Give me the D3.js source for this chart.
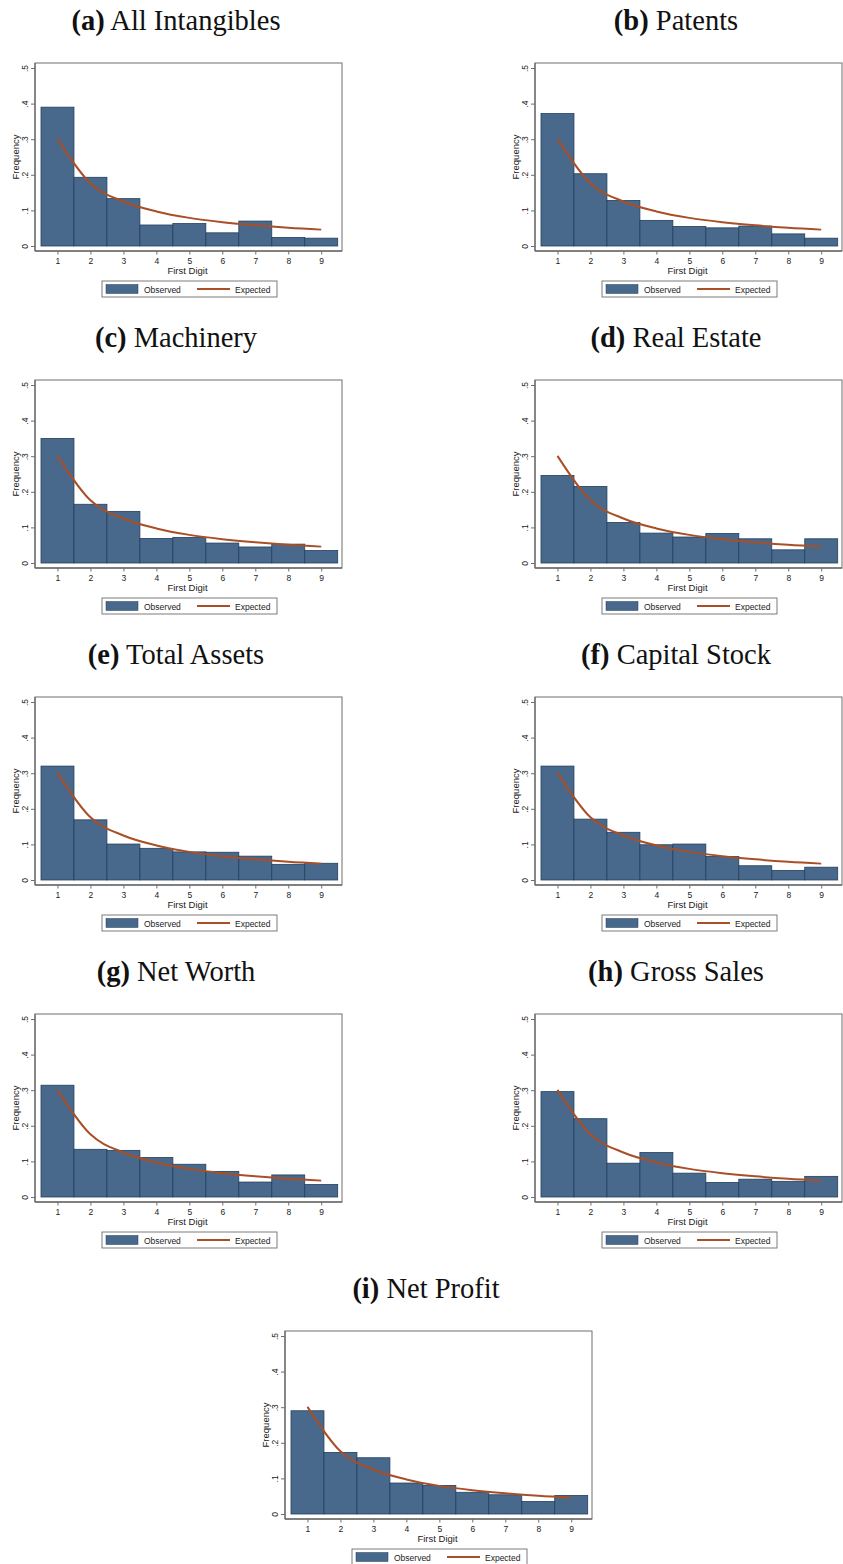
<!DOCTYPE html>
<html>
<head>
<meta charset="utf-8">
<script src="https://cdn.jsdelivr.net/npm/d3@7"></script>
<style>
  html, body { margin: 0; padding: 0; background: #fff; }
  svg { display: block; }
</style>
</head>
<body>
<svg id="chart" width="843" height="1564"></svg>
<script>
// ---------- data ----------
const digits = [1, 2, 3, 4, 5, 6, 7, 8, 9];
const yTicks = [0, 0.1, 0.2, 0.3, 0.4, 0.5];
const yTickLabels = ["0", ".1", ".2", ".3", ".4", ".5"];
const panelLetters = ["(a)", "(b)", "(c)", "(d)", "(e)", "(f)", "(g)", "(h)", "(i)"];
const panelNames = ["All Intangibles", "Patents", "Machinery", "Real Estate",
  "Total Assets", "Capital Stock", "Net Worth", "Gross Sales", "Net Profit"];
const expected = [0.301, 0.176, 0.125, 0.097, 0.079, 0.067, 0.058, 0.051, 0.046];
const obsAllIntangibles = [0.390, 0.193, 0.133, 0.059, 0.063, 0.037, 0.070, 0.024, 0.022];
const obsPatents        = [0.372, 0.203, 0.128, 0.072, 0.055, 0.051, 0.056, 0.034, 0.022];
const obsMachinery      = [0.350, 0.165, 0.145, 0.069, 0.072, 0.056, 0.045, 0.053, 0.035];
const obsRealEstate     = [0.246, 0.215, 0.114, 0.084, 0.073, 0.083, 0.068, 0.037, 0.068];
const obsTotalAssets    = [0.320, 0.169, 0.101, 0.089, 0.079, 0.078, 0.067, 0.044, 0.047];
const obsCapitalStock   = [0.320, 0.171, 0.134, 0.099, 0.101, 0.066, 0.040, 0.027, 0.036];
const obsNetWorth       = [0.314, 0.134, 0.131, 0.111, 0.092, 0.072, 0.042, 0.062, 0.035];
const obsGrossSales     = [0.296, 0.220, 0.095, 0.125, 0.067, 0.041, 0.050, 0.044, 0.058];
const obsNetProfit      = [0.290, 0.173, 0.158, 0.087, 0.080, 0.061, 0.054, 0.035, 0.052];
const observedSeries = [obsAllIntangibles, obsPatents, obsMachinery, obsRealEstate,
  obsTotalAssets, obsCapitalStock, obsNetWorth, obsGrossSales, obsNetProfit];

// ---------- layout ----------
const panelOrigins = [[0,0],[500,0],[0,317],[500,317],[0,634],[500,634],[0,951],[500,951],[250,1268]];
const BAR_FILL = "#48698c";
const BAR_STROKE = "#213f5e";
const LINE_COLOR = "#a94f27";
const FRAME = "#6e6e6e";
const SANS = "'Liberation Sans', Arial, sans-serif";
const SERIF = "'Liberation Serif', 'Times New Roman', serif";

const svg = d3.select("#chart");

panelOrigins.forEach((o, i) => {
  const [ox, oy] = o;
  const g = svg.append("g").attr("transform", `translate(${ox},${oy})`);

  // title
  const t = g.append("text")
    .attr("x", 176).attr("y", 29.5)
    .attr("text-anchor", "middle")
    .attr("font-family", SERIF)
    .attr("font-size", 28.5)
    .attr("fill", "#111");
  t.append("tspan").attr("font-weight", "bold").text(panelLetters[i]);
  t.append("tspan").text(" " + panelNames[i]);

  const box = {x0: 35, x1: 342, y0: 63, y1: 251};
  const x = d3.scaleLinear().domain([0.5, 9.5]).range([41, 337.7]);
  const y = d3.scaleLinear().domain([0, 0.5]).range([246, 68]);

  // plot region
  g.append("rect")
    .attr("x", box.x0).attr("y", box.y0)
    .attr("width", box.x1 - box.x0).attr("height", box.y1 - box.y0)
    .attr("fill", "#fff").attr("stroke", FRAME).attr("stroke-width", 1);

  // bars
  const data = observedSeries[i];
  g.append("g").selectAll("rect").data(digits).join("rect")
    .attr("x", d => x(d - 0.5))
    .attr("width", d => x(d + 0.5) - x(d - 0.5))
    .attr("y", (d, k) => y(data[k]))
    .attr("height", (d, k) => y(0) - y(data[k]))
    .attr("fill", BAR_FILL)
    .attr("stroke", BAR_STROKE)
    .attr("stroke-width", 0.8);

  // expected curve
  const line = d3.line()
    .x((d, k) => x(digits[k]))
    .y(d => y(d))
    .curve(d3.curveMonotoneX);
  g.append("path").datum(expected)
    .attr("d", line)
    .attr("fill", "none")
    .attr("stroke", LINE_COLOR)
    .attr("stroke-width", 2);

  // y axis
  const yAxis = d3.axisLeft(y).tickValues(yTicks)
    .tickFormat((d, k) => yTickLabels[k]).tickSize(4).tickPadding(3);
  const ya = g.append("g").attr("transform", `translate(${box.x0},0)`).call(yAxis);
  ya.select(".domain").remove();
  ya.selectAll(".tick line").attr("stroke", FRAME);
  ya.selectAll(".tick text")
    .attr("font-family", SANS).attr("font-size", 8.5).attr("fill", "#222")
    .attr("text-anchor", "middle")
    .attr("x", null).attr("dy", null)
    .attr("transform", "translate(-7.5,0) rotate(-90)")
    .attr("y", 0);
  // thicker y axis line along the frame
  g.append("line").attr("x1", box.x0).attr("x2", box.x0)
    .attr("y1", box.y0).attr("y2", box.y1)
    .attr("stroke", FRAME).attr("stroke-width", 1.3);

  // x axis
  const xAxis = d3.axisBottom(x).tickValues(digits).tickFormat(d3.format("d"))
    .tickSize(3.5).tickPadding(3);
  const xa = g.append("g").attr("transform", `translate(0,${box.y1})`).call(xAxis);
  xa.select(".domain").remove();
  xa.selectAll(".tick line").attr("stroke", FRAME);
  xa.selectAll(".tick text")
    .attr("font-family", SANS).attr("font-size", 8.5).attr("fill", "#222");
  g.append("line").attr("x1", box.x0).attr("x2", box.x1)
    .attr("y1", box.y1).attr("y2", box.y1)
    .attr("stroke", FRAME).attr("stroke-width", 1.3);

  // axis titles
  g.append("text")
    .attr("x", (box.x0 + box.x1) / 2 - 1).attr("y", 273.5)
    .attr("text-anchor", "middle")
    .attr("font-family", SANS).attr("font-size", 9.5).attr("fill", "#222")
    .text("First Digit");
  g.append("text")
    .attr("transform", `translate(18.5,${(y(0) + y(0.5)) / 2}) rotate(-90)`)
    .attr("text-anchor", "middle")
    .attr("font-family", SANS).attr("font-size", 9.5).attr("fill", "#222")
    .text("Frequency");

  // legend
  const lg = g.append("g");
  lg.append("rect").attr("x", 102).attr("y", 281).attr("width", 175).attr("height", 16)
    .attr("fill", "#fff").attr("stroke", FRAME).attr("stroke-width", 0.9);
  lg.append("rect").attr("x", 106).attr("y", 284.5).attr("width", 32).attr("height", 9)
    .attr("fill", BAR_FILL).attr("stroke", BAR_STROKE).attr("stroke-width", 0.5);
  lg.append("text").attr("x", 144).attr("y", 292.5)
    .attr("font-family", SANS).attr("font-size", 8.5).attr("fill", "#222")
    .text("Observed");
  lg.append("line").attr("x1", 197).attr("x2", 230).attr("y1", 289).attr("y2", 289)
    .attr("stroke", LINE_COLOR).attr("stroke-width", 2);
  lg.append("text").attr("x", 235).attr("y", 292.5)
    .attr("font-family", SANS).attr("font-size", 8.5).attr("fill", "#222")
    .text("Expected");
});
</script>
</body>
</html>
